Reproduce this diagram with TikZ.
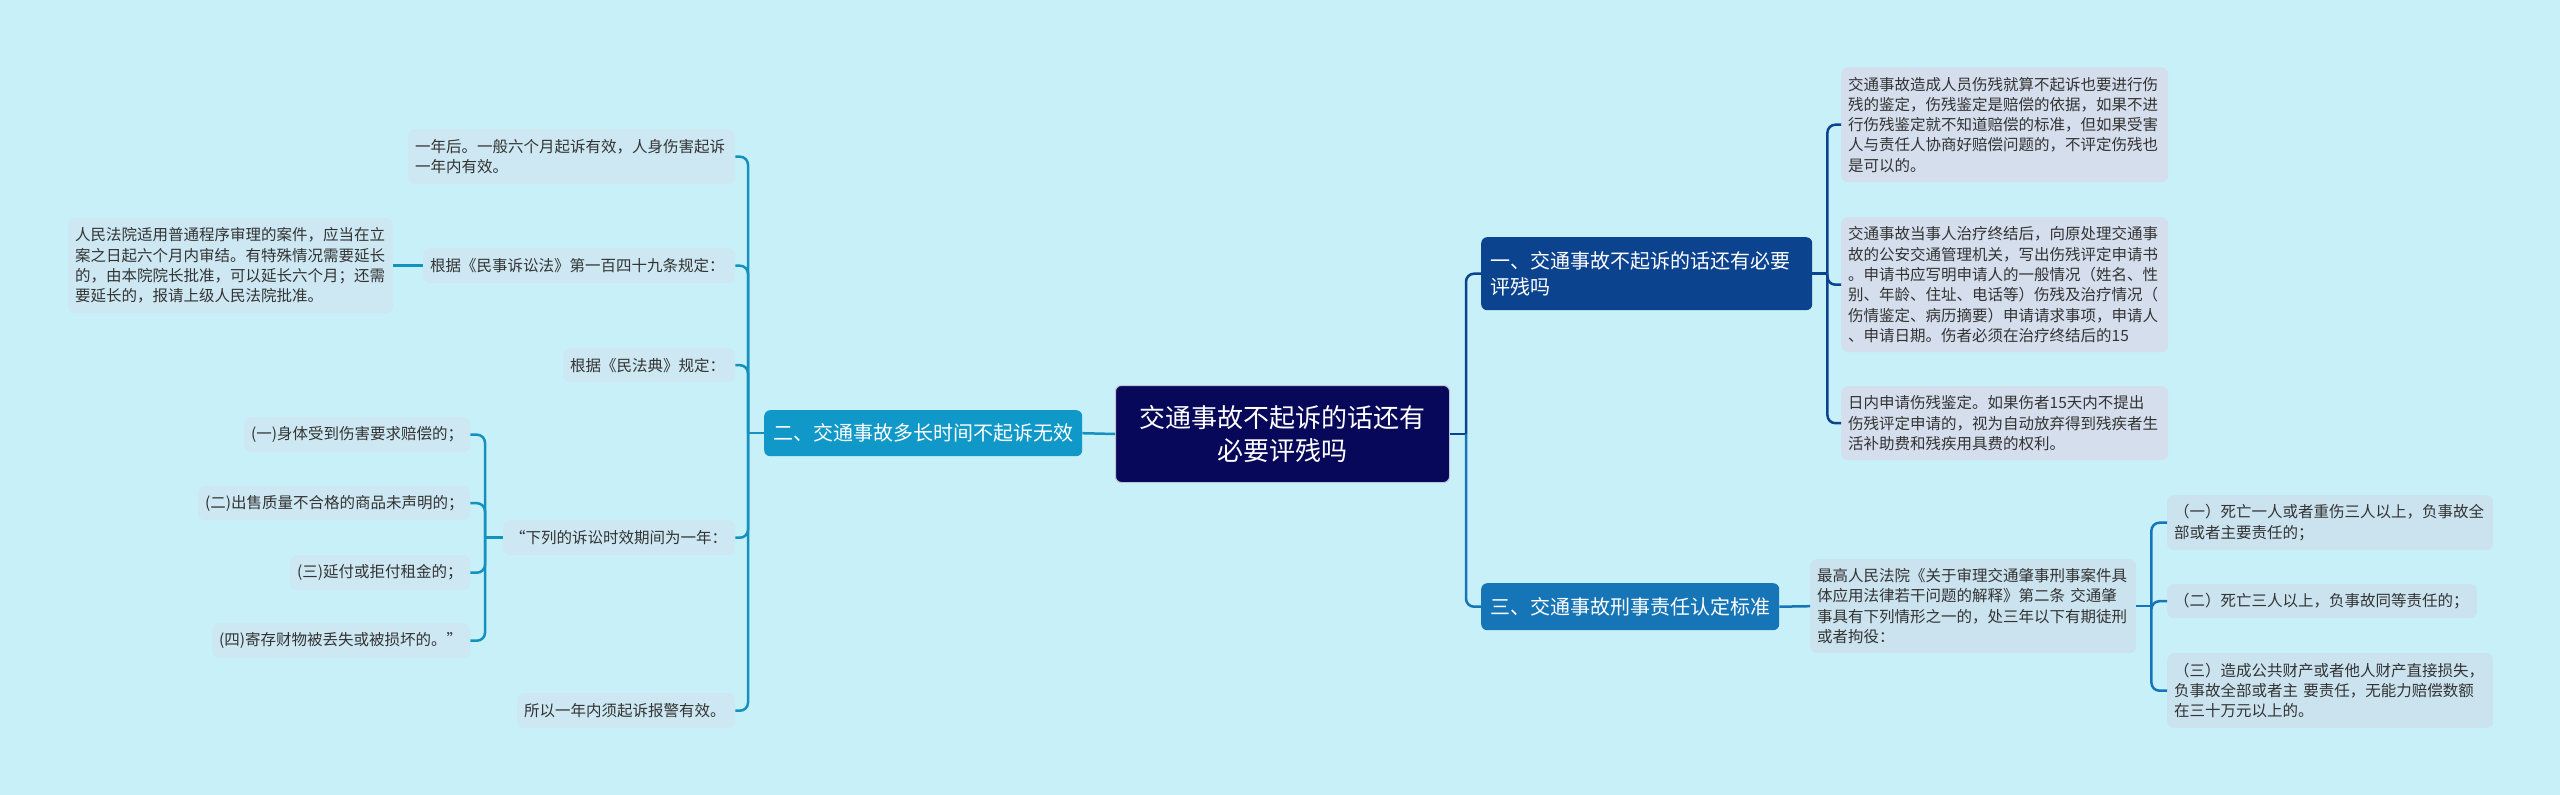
\documentclass[tikz,border=0pt]{standalone}
\usepackage{fontspec}
\setmainfont{Noto Sans CJK SC}
\definecolor{bg}{HTML}{C8F0F8}
\definecolor{txt}{HTML}{333333}
\definecolor{leafLc}{HTML}{CDE8F2}
\definecolor{leafRa}{HTML}{D5DEEC}
\definecolor{leafRc}{HTML}{CBE3EF}
\definecolor{lineL}{HTML}{1591C0}
\definecolor{fillL}{HTML}{1098C8}
\definecolor{fillC}{HTML}{08085A}
\definecolor{fillRa}{HTML}{0B438F}
\definecolor{fillRc}{HTML}{1675B6}
\begin{document}
\begin{tikzpicture}[x=1pt,y=-1pt,
  leaf/.style={anchor=north west, rounded corners=7pt, inner xsep=7pt, inner ysep=1pt, align=left, text=txt, font=\fontsize{15.5pt}{20.3pt}\selectfont},
  leafL/.style={leaf, fill=leafLc},
  leafRa/.style={leaf, fill=leafRa},
  leafRc/.style={leaf, fill=leafRc},
  branch/.style={anchor=north west, rounded corners=6pt, inner xsep=9pt, inner ysep=1pt, align=left, text=white, font=\fontsize{20pt}{25.7pt}\selectfont},
  conL/.style={draw=lineL, line width=2.5pt, rounded corners=8pt},
  conRa/.style={draw=fillRa, line width=2.5pt, rounded corners=8pt},
  conRc/.style={draw=fillRc, line width=2.5pt, rounded corners=8pt},
]
\fill[bg] (0,0) rectangle (2560,795);
\useasboundingbox (0,0) rectangle (2560,795);

% center
\node[anchor=north west, rounded corners=6pt, fill=fillC, draw=white!75!fillC, line width=1pt, text=white, align=center, text width=314pt, minimum height=97pt, inner xsep=10pt, font=\fontsize{26pt}{33pt}\selectfont] (C) at (1115,385) {交通事故不起诉的话还有\\必要评残吗};

% left branch
\node[branch, fill=fillL, text width=300pt, minimum height=46pt] (L) at (764,410) {二、交通事故多长时间不起诉无效};
\node[leafL, text width=313pt, minimum height=55pt] (L1) at (408,129) {一年后。一般六个月起诉有效，人身伤害起诉\\一年内有效。};
\node[leafL, text width=298pt, minimum height=35pt] (L2) at (423,248) {根据《民事诉讼法》第一百四十九条规定：};
\node[leafL, text width=311pt, minimum height=95pt] (L2a) at (68,218) {人民法院适用普通程序审理的案件，应当在立\\案之日起六个月内审结。有特殊情况需要延长\\的，由本院院长批准，可以延长六个月；还需\\要延长的，报请上级人民法院批准。};
\node[leafL, text width=158pt, minimum height=34pt] (L3) at (563,348) {根据《民法典》规定：};
\node[leafL, text width=218pt, minimum height=35pt] (L4) at (503,520) {“下列的诉讼时效期间为一年：};
\node[leafL, text width=212pt, minimum height=35pt] (L4a) at (244,417) {(一)身体受到伤害要求赔偿的；};
\node[leafL, text width=258pt, minimum height=34pt] (L4b) at (198,486) {(二)出售质量不合格的商品未声明的；};
\node[leafL, text width=166pt, minimum height=35pt] (L4c) at (290,555) {(三)延付或拒付租金的；};
\node[leafL, text width=244pt, minimum height=35pt] (L4d) at (212,623) {(四)寄存财物被丢失或被损坏的。”};
\node[leafL, text width=204pt, minimum height=35pt] (L5) at (517,693) {所以一年内须起诉报警有效。};

% right branch 1
\node[branch, fill=fillRa, text width=313pt, minimum height=73pt, inner xsep=9pt] (R1) at (1481,237) {一、交通事故不起诉的话还有必要\\评残吗};
\node[leafRa, text width=313pt, minimum height=115pt] (R1a) at (1841,67) {交通事故造成人员伤残就算不起诉也要进行伤\\残的鉴定，伤残鉴定是赔偿的依据，如果不进\\行伤残鉴定就不知道赔偿的标准，但如果受害\\人与责任人协商好赔偿问题的，不评定伤残也\\是可以的。};
\node[leafRa, text width=313pt, minimum height=135pt] (R1b) at (1841,217) {交通事故当事人治疗终结后，向原处理交通事\\故的公安交通管理机关，写出伤残评定申请书\\。申请书应写明申请人的一般情况（姓名、性\\别、年龄、住址、电话等）伤残及治疗情况（\\伤情鉴定、病历摘要）申请请求事项，申请人\\、申请日期。伤者必须在治疗终结后的15};
\node[leafRa, text width=313pt, minimum height=74pt] (R1c) at (1841,386) {日内申请伤残鉴定。如果伤者15天内不提出\\伤残评定申请的，视为自动放弃得到残疾者生\\活补助费和残疾用具费的权利。};

% right branch 3
\node[branch, fill=fillRc, text width=280pt, minimum height=47pt] (R3) at (1481,583) {三、交通事故刑事责任认定标准};
\node[leafRc, text width=312pt, minimum height=94pt] (R3a) at (1810,559) {最高人民法院《关于审理交通肇事刑事案件具\\体应用法律若干问题的解释》第二条 交通肇\\事具有下列情形之一的，处三年以下有期徒刑\\或者拘役：};
\node[leafRc, text width=312pt, minimum height=55pt] (R3s1) at (2167,495) {（一）死亡一人或者重伤三人以上，负事故全\\部或者主要责任的；};
\node[leafRc, text width=296pt, minimum height=34pt] (R3s2) at (2167,584) {（二）死亡三人以上，负事故同等责任的；};
\node[leafRc, text width=312pt, minimum height=75pt] (R3s3) at (2167,653) {（三）造成公共财产或者他人财产直接损失，\\负事故全部或者主 要责任，无能力赔偿数额\\在三十万元以上的。};

% connectors left
\coordinate (bL) at ([xshift=-16pt]L.west);
\coordinate (bL4) at ([xshift=-18pt]L4.west);
\draw[conL] (C.west) -- (L.east);
\draw[conL] (L.west) -- (bL);
\foreach \n in {L1,L2,L3,L4,L5} \draw[conL] (bL) |- (\n.east);
\draw[conL] (L2.west) -- (L2a.east);
\draw[conL] (L4.west) -- (bL4);
\foreach \n in {L4a,L4b,L4c,L4d} \draw[conL] (bL4) |- (\n.east);

% connectors right
\coordinate (bR) at ([xshift=16pt]C.east);
\coordinate (bR1) at ([xshift=15pt]R1.east);
\coordinate (bR3) at ([xshift=15pt]R3a.east);
\draw[conRa] (C.east) -- (bR);
\draw[conRa] (bR) |- (R1.west);
\draw[conRc] (bR) |- (R3.west);
\draw[conRa] (R1.east) -- (bR1);
\foreach \n in {R1a,R1b,R1c} \draw[conRa] (bR1) |- (\n.west);
\draw[conRc] (R3.east) -- (R3a.west);
\draw[conRc] (R3a.east) -- (bR3);
\foreach \n in {R3s1,R3s2,R3s3} \draw[conRc] (bR3) |- (\n.west);
\end{tikzpicture}
\end{document}
